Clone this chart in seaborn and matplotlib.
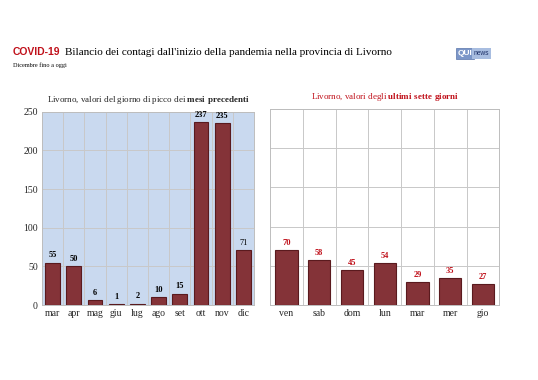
import numpy as np
import pandas as pd
import matplotlib.pyplot as plt
import seaborn as sns
from matplotlib.ticker import FixedLocator

# Data
mesi = ['mar', 'apr', 'mag', 'giu', 'lug', 'ago', 'set', 'ott', 'nov', 'dic']
picco_mesi = [55, 50, 6, 1, 2, 10, 15, 237, 235, 71]
giorni = ['ven', 'sab', 'dom', 'lun', 'mar', 'mer', 'gio']
ultimi_giorni = [70, 58, 45, 54, 29, 35, 27]

df_mesi = pd.DataFrame({'mese': mesi, 'valore': picco_mesi})
df_giorni = pd.DataFrame({'giorno': giorni, 'valore': ultimi_giorni})

sns.set_style('white')
plt.rcParams['font.family'] = ['Liberation Serif', 'DejaVu Serif']
plt.rcParams['mathtext.fontset'] = 'custom'
plt.rcParams['mathtext.rm'] = 'Liberation Serif'
plt.rcParams['mathtext.bf'] = 'Liberation Serif:bold'

bar_color = '#843338'
edge_color = '#5a1a1e'
red = '#c0101a'
grid_color = '#c8c8c8'

fig = plt.figure(figsize=(5.38, 3.8), dpi=100)
ax1 = fig.add_axes([0.078, 0.197, 0.394, 0.509])
ax2 = fig.add_axes([0.502, 0.197, 0.426, 0.516])


def style_axis(ax, n, bg):
    ax.set_facecolor(bg)
    ax.set_xlim(-0.5, n - 0.5)
    ax.set_ylim(0, 250)
    ax.set_yticks(range(0, 251, 50))
    ax.xaxis.set_minor_locator(FixedLocator(np.arange(0.5, n - 0.5, 1)))
    ax.grid(axis='y', which='major', color=grid_color, lw=0.7)
    ax.grid(axis='x', which='minor', color=grid_color, lw=0.7)
    ax.set_axisbelow(True)
    ax.tick_params(axis='both', which='both', length=0, labelsize=7, pad=3)
    ax.set_xlabel('')
    ax.set_ylabel('')
    for s in ax.spines.values():
        s.set_color('#bdbdbd')
        s.set_linewidth(0.7)


# Left panel: monthly peaks
sns.barplot(data=df_mesi, x='mese', y='valore', color=bar_color, width=0.7,
            edgecolor=edge_color, linewidth=0.8, saturation=1, ax=ax1)
style_axis(ax1, len(mesi), '#c9d9ef')
for i, v in enumerate(picco_mesi):
    bold = 'normal' if mesi[i] == 'dic' else 'bold'
    ax1.text(i, v + 4, str(v), ha='center', va='bottom', fontsize=6,
             fontweight=bold, color='black')
ax1.set_title('Livorno, valori del giorno di picco dei $\\mathbf{mesi\\ precedenti}$',
              fontsize=6.5, pad=7)

# Right panel: last seven days
sns.barplot(data=df_giorni, x='giorno', y='valore', color=bar_color, width=0.68,
            edgecolor=edge_color, linewidth=0.8, saturation=1, ax=ax2)
style_axis(ax2, len(giorni), 'white')
ax2.set_yticklabels([])
for i, v in enumerate(ultimi_giorni):
    ax2.text(i, v + 4, str(v), ha='center', va='bottom', fontsize=6,
             fontweight='bold', color=red)
ax2.set_title('Livorno, valori degli $\\mathbf{ultimi\\ sette\\ giorni}$',
              fontsize=6.5, pad=7, color=red)

# Headline
fig.text(0.024, 0.855, 'COVID-19', fontsize=7.5, fontweight='bold', color=red,
         va='baseline', family=['Liberation Sans', 'DejaVu Sans'])
fig.text(0.121, 0.855, 'Bilancio dei contagi dall\'inizio della pandemia nella provincia di Livorno',
         fontsize=8, color='black', va='baseline')
fig.text(0.024, 0.825, 'Dicembre fino a oggi', fontsize=4.5, color='black')

# Logo
fig.text(0.851, 0.855, 'QUI', fontsize=6, fontweight='bold', color='white',
         va='baseline', family=['Liberation Sans', 'DejaVu Sans'],
         bbox=dict(boxstyle='square,pad=0.2', fc='#7b96c8', ec='#5a75aa', lw=0.5))
fig.text(0.881, 0.855, 'news', fontsize=4.8, color='#1c2f66',
         va='baseline', family=['Liberation Sans', 'DejaVu Sans'],
         bbox=dict(boxstyle='square,pad=0.3', fc='#a8bde0', ec='none'))

fig.savefig('out.png', dpi=100)
